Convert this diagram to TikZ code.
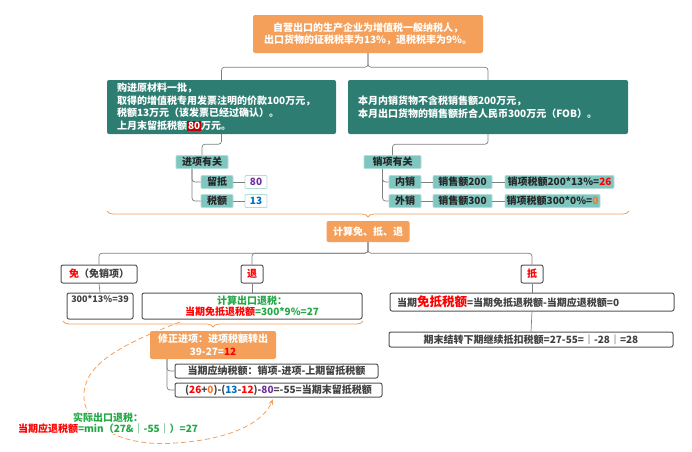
\documentclass[tikz,border=0pt]{standalone}
\usepackage{fontspec}
\setmainfont{Noto Sans CJK SC}
\usetikzlibrary{decorations.pathreplacing,arrows.meta}

\definecolor{boxorange}{HTML}{F4A05A}
\definecolor{boxteal}{HTML}{2E7D72}
\definecolor{tagteal}{HTML}{80C6C0}
\definecolor{tagline}{HTML}{B2DDD9}
\definecolor{linegray}{HTML}{808080}
\definecolor{textgray}{HTML}{404040}
\definecolor{boxline}{HTML}{555555}
\definecolor{redtxt}{HTML}{FF0000}
\definecolor{greentxt}{HTML}{22A845}
\definecolor{purpletxt}{HTML}{7030A0}
\definecolor{bluetxt}{HTML}{0070C0}
\definecolor{orangetxt}{HTML}{F07830}
\definecolor{markred}{HTML}{C00000}

\tikzset{
  base/.style={inner sep=0pt, font=\fontsize{10}{12.5}\selectfont\bfseries},
  orangebox/.style={base, fill=boxorange, rounded corners=2pt, text=white, align=center},
  tealbox/.style={base, fill=boxteal, rounded corners=2pt, text=white, align=left, inner xsep=10pt, minimum height=54pt},
  tagbox/.style={base, fill=tagteal, draw=tagline, line width=0.8pt, rounded corners=1pt, text=black!85, minimum height=13pt},
  valbox/.style={base, fill=white, draw=tagline, line width=0.8pt, rounded corners=1pt, minimum height=13pt, minimum width=22pt},
  whitebox/.style={base, fill=white, draw=boxline, line width=1pt, rounded corners=2pt, text=textgray, align=center},
  conn/.style={draw=linegray, line width=0.7pt, rounded corners=3pt},
  bracebar/.style={draw=boxorange, line width=0.8pt, decorate, decoration={brace, mirror, amplitude=6pt}},
  loopback/.style={draw=boxorange, line width=0.8pt, dash pattern=on 5pt off 3pt, -{Stealth[length=6pt]}},
}

\begin{document}
\begin{tikzpicture}[x=1pt, y=-1pt]
  \useasboundingbox (0,0) rectangle (692,451);

  % Given facts
  \node[orangebox, minimum width=230pt, minimum height=38pt] (top) at (368,34)
    {自营出口的生产企业为增值税一般纳税人，\\出口货物的征税税率为13\%，退税税率为9\%。};
  \node[tealbox, text width=209pt] (buy) at (221.5,107)
    {购进原材料一批，\\取得的增值税专用发票注明的价款100万元，\\税额13万元（该发票已经过确认）。\\上月末留抵税额{\fboxsep=1pt\colorbox{markred}{80}}万元。};
  \node[tealbox, text width=260pt] (sell) at (488,107)
    {本月内销货物不含税销售额200万元，\\本月出口货物的销售额折合人民币300万元（FOB）。};

  \draw[conn] (top.south) -- ++(0,14) -| (buy.north);
  \draw[conn] (top.south) -- ++(0,14) -| (sell.north);

  % Input side
  \node[tagbox, minimum width=52pt] (jx) at (202,162) {进项有关};
  \node[tagbox, minimum width=32pt] (liudi) at (217,182) {留抵};
  \node[tagbox, minimum width=32pt] (shuie) at (217,201) {税额};
  \node[valbox, text=purpletxt] (v80) at (256,182) {80};
  \node[valbox, text=bluetxt] (v13) at (256,201) {13};

  \draw[conn] (buy.south) -- ++(0,10) -| (jx.north);
  \draw[conn] ([xshift=-10pt]jx.south) |- (liudi.west);
  \draw[conn] ([xshift=-10pt]jx.south) |- (shuie.west);
  \draw[conn] (liudi.east) -- (v80.west);
  \draw[conn] (shuie.east) -- (v13.west);

  % Output side
  \node[tagbox, minimum width=57pt] (xx) at (392.5,162) {销项有关};
  \node[tagbox, minimum width=32pt] (nx) at (405,182) {内销};
  \node[tagbox, minimum width=32pt] (wx) at (405,201) {外销};
  \node[tagbox, minimum width=59pt] (ns) at (462.5,182) {销售额200};
  \node[tagbox, minimum width=59pt] (ws) at (462.5,201) {销售额300};
  \node[tagbox, minimum width=109pt] (nt) at (559.5,182) {销项税额200*13\%=\textcolor{redtxt}{26}};
  \node[tagbox, minimum width=95pt] (wt) at (552.5,201) {销项税额300*0\%=\textcolor{orangetxt}{0}};

  \draw[conn] (sell.south) -- ++(0,10) -| (xx.north);
  \draw[conn] ([xshift=-10pt]xx.south) |- (nx.west);
  \draw[conn] ([xshift=-10pt]xx.south) |- (wx.west);
  \draw[conn] (nx.east) -- (ns.west);
  \draw[conn] (ns.east) -- (nt.west);
  \draw[conn] (wx.east) -- (ws.west);
  \draw[conn] (ws.east) -- (wt.west);

  \coordinate (b1l) at (107,211);
  \coordinate (b1r) at (629,211);
  \draw[bracebar] (b1l) -- (b1r);

  % Exempt, credit, refund
  \node[orangebox, minimum width=83pt, minimum height=21pt] (calc) at (368,231.5) {计算免、抵、退};
  \node[whitebox, minimum width=76pt, minimum height=18pt] (mian) at (99,274) {\textcolor{redtxt}{免}（免销项）};
  \node[whitebox, minimum width=22pt, minimum height=18pt, text=redtxt] (tui) at (252,274) {退};
  \node[whitebox, minimum width=22pt, minimum height=18pt, text=redtxt] (di) at (532,274) {抵};

  \draw[conn] (calc.south) -- ++(0,11) -| (mian.north);
  \draw[conn] (calc.south) -- ++(0,11) -| (tui.north);
  \draw[conn] (calc.south) -- ++(0,11) -| (di.north);

  \node[whitebox, minimum width=66pt, minimum height=26pt, font=\fontsize{9}{11}\selectfont\bfseries] (mbox) at (100,306) {300*13\%=39\\[3pt]\mbox{}};
  \node[whitebox, minimum width=220pt, minimum height=26pt, font=\fontsize{10}{11.5}\selectfont\bfseries] (tbox) at (252,306)
    {\textcolor{greentxt}{计算出口退税：}\\\textcolor{redtxt}{当期免抵退税额}\textcolor{greentxt}{=300*9\%=27}};
  \draw[conn] (mian.south) -- (mbox.north);
  \draw[conn] (tui.south) -- (tbox.north);

  \coordinate (b2l) at (63,321);
  \coordinate (b2r) at (363,321);
  \draw[bracebar] (b2l) -- (b2r);

  \node[orangebox, minimum width=126pt, minimum height=28pt] (xz) at (213,345) {修正进项：进项税额转出\\39-27=\textcolor{redtxt}{12}};
  \node[whitebox, minimum width=203pt, minimum height=14pt] (c1) at (276.5,371) {当期应纳税额：销项-进项-上期留抵税额};
  \node[whitebox, minimum width=207pt, minimum height=14pt] (c2) at (278.5,390)
    {(\textcolor{redtxt}{26}+\textcolor{orangetxt}{0})-(\textcolor{bluetxt}{13}-\textcolor{redtxt}{12})-\textcolor{purpletxt}{80}=-55=当期末留抵税额};
  \draw[conn] ([xshift=-46pt]xz.south) |- (c1.west);
  \draw[conn] ([xshift=-46pt]xz.south) |- (c2.west);

  \node[whitebox, minimum width=284pt, minimum height=18pt, text width=270pt, align=left] (dbox) at (532,302)
    {当期{\fontsize{12.5}{14}\selectfont\textcolor{redtxt}{免抵税额}}=当期免抵退税额-当期应退税额=0};
  \node[whitebox, minimum width=284pt, minimum height=15pt] (qbox) at (531,339.5) {期末结转下期继续抵扣税额=27-55=｜-28｜=28};
  \draw[conn] (di.south) -- (dbox.north);
  \draw[conn] (dbox.south) -- (qbox.north);

  % Refund actually paid
  \coordinate (arcS) at (180,322);
  \coordinate (arcE) at (273,399);
  \draw[loopback] (arcS) .. controls (120,345) and (82,365) .. (84,398)
    .. controls (86,430) and (130,447) .. (175,443)
    .. controls (225,440) and (262,425) .. (arcE);

  \node[base, fill=white, inner sep=1pt, align=center, text=greentxt, font=\fontsize{10}{11}\selectfont\bfseries] (sj) at (108,423)
    {实际出口退税：\\\textcolor{redtxt}{当期应退税额}=min（27\&｜-55｜）=27};
\end{tikzpicture}
\end{document}
